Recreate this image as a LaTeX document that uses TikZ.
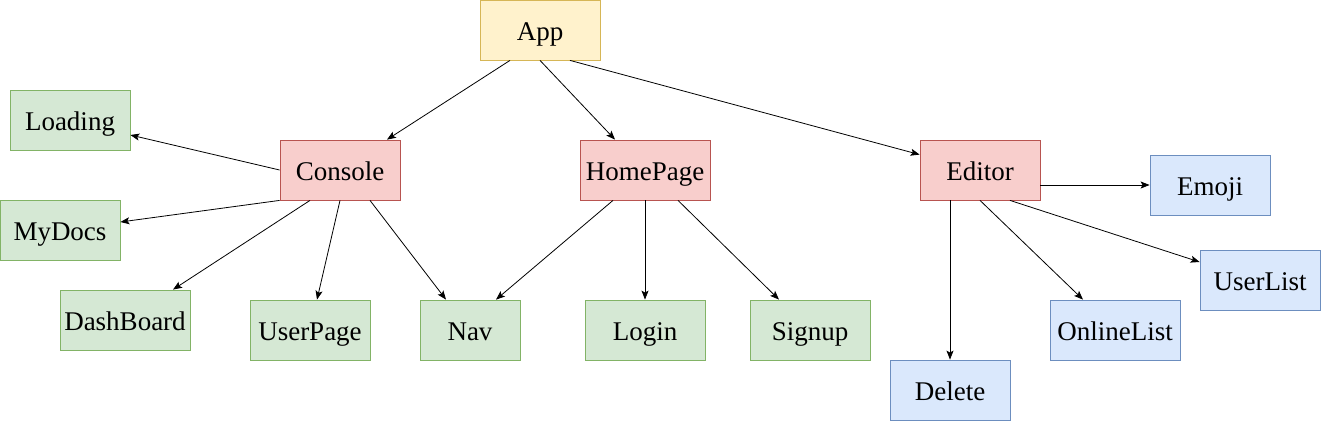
\documentclass[tikz,border=0pt]{standalone}
\usepackage{fontspec}
\setmainfont{Liberation Serif}
\usetikzlibrary{arrows.meta}
\definecolor{yfill}{HTML}{FFF2CC}\definecolor{ydraw}{HTML}{D6B656}
\definecolor{gfill}{HTML}{D5E8D4}\definecolor{gdraw}{HTML}{82B366}
\definecolor{rfill}{HTML}{F8CECC}\definecolor{rdraw}{HTML}{B85450}
\definecolor{bfill}{HTML}{DAE8FC}\definecolor{bdraw}{HTML}{6C8EBF}
\begin{document}
\begin{tikzpicture}[x=1pt,y=-1pt,
  box/.style={draw, line width=0.8pt, minimum height=60pt, inner sep=0pt, text height=24pt, text depth=4pt, font=\fontsize{27}{31}\selectfont},
  ybox/.style={box, fill=yfill, draw=ydraw},
  gbox/.style={box, fill=gfill, draw=gdraw},
  rbox/.style={box, fill=rfill, draw=rdraw},
  bbox/.style={box, fill=bfill, draw=bdraw},
  arr/.style={-{Stealth[length=9pt,width=7pt,inset=2pt]}, line width=0.8pt}]
\useasboundingbox (0,0) rectangle (1321,421);
\node[ybox, minimum width=120pt] (app) at (540,30) {App};
\node[gbox, minimum width=120pt] (loading) at (70,120) {Loading};
\node[rbox, minimum width=120pt] (console) at (340,170) {Console};
\node[rbox, minimum width=130pt] (home) at (645,170) {HomePage};
\node[rbox, minimum width=120pt] (editor) at (980,170) {Editor};
\node[gbox, minimum width=120pt] (mydocs) at (60,230) {MyDocs};
\node[bbox, minimum width=120pt] (emoji) at (1210,185) {Emoji};
\node[bbox, minimum width=120pt] (userlist) at (1260,280) {UserList};
\node[gbox, minimum width=130pt] (dash) at (125,320) {DashBoard};
\node[gbox, minimum width=120pt] (userpage) at (310,330) {UserPage};
\node[gbox, minimum width=100pt] (nav) at (470,330) {Nav};
\node[gbox, minimum width=120pt] (login) at (645,330) {Login};
\node[gbox, minimum width=120pt] (signup) at (810,330) {Signup};
\node[bbox, minimum width=130pt] (online) at (1115,330) {OnlineList};
\node[bbox, minimum width=120pt] (delete) at (950,390) {Delete};

\draw[arr] ([xshift=-30pt]app.south) -- ([xshift=47pt]console.north);
\draw[arr] (app.south) -- ([xshift=-30pt]home.north);
\draw[arr] ([xshift=30pt]app.south) -- ([yshift=-15pt]editor.north west);
\draw[arr] (console.west) -- ([yshift=-15pt]loading.east);
\draw[arr] (console.south west) -- ([yshift=8pt]mydocs.east);
\draw[arr] ([xshift=-30pt]console.south) -- ([xshift=48pt]dash.north);
\draw[arr] (console.south) -- ([xshift=7pt]userpage.north);
\draw[arr] ([xshift=30pt]console.south) -- ([xshift=-24pt]nav.north);
\draw[arr] ([xshift=-32pt]home.south) -- ([xshift=26pt]nav.north);
\draw[arr] (home.south) -- (login.north);
\draw[arr] ([xshift=33pt]home.south) -- ([xshift=-31pt]signup.north);
\draw[arr] ([yshift=-15pt]editor.east) -- (emoji.west);
\draw[arr] ([xshift=30pt]editor.south) -- ([yshift=18pt]userlist.west);
\draw[arr] (editor.south) -- ([xshift=-32pt]online.north);
\draw[arr] ([xshift=-30pt]editor.south) -- (delete.north);
\end{tikzpicture}
\end{document}
